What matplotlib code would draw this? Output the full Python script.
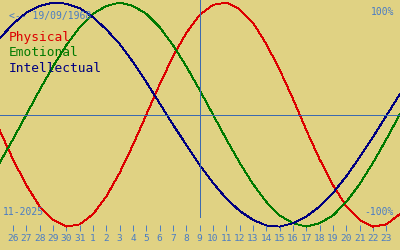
import matplotlib
matplotlib.use("Agg")
import matplotlib.pyplot as plt

# Day labels (Oct 26 .. Nov 23)
day_labels = [26, 27, 28, 29, 30, 31] + list(range(1, 24))
# Series values (-1..1) for day index -1 .. 29 (one extra day each side)
physical = [-0.14, -0.40, -0.63, -0.82, -0.94, -1.00, -0.98, -0.89, -0.73, -0.52,
            -0.27, 0.00, 0.27, 0.52, 0.73, 0.89, 0.98, 1.00, 0.94, 0.82,
            0.63, 0.40, 0.14, -0.14, -0.40, -0.63, -0.82, -0.94, -1.00, -0.98, -0.89]
emotional = [-0.43, -0.22, 0.00, 0.22, 0.43, 0.62, 0.78, 0.90, 0.97, 1.00,
             0.97, 0.90, 0.78, 0.62, 0.43, 0.22, 0.00, -0.22, -0.43, -0.62,
             -0.78, -0.90, -0.97, -1.00, -0.97, -0.90, -0.78, -0.62, -0.43, -0.22, 0.00]
intellectual = [0.68, 0.81, 0.91, 0.97, 1.00, 0.99, 0.95, 0.87, 0.76, 0.63,
                0.47, 0.29, 0.10, -0.09, -0.27, -0.45, -0.61, -0.75, -0.86, -0.94,
                -0.99, -1.00, -0.97, -0.91, -0.82, -0.70, -0.55, -0.38, -0.20, -0.01, 0.18]
today_index = 14
birth_text = "<-- 19/09/1968"
month_text = "11-2025"

BG = "#E0D283"
TXT = "#4A7CC4"
LINE = "#3C6AB0"

fig = plt.figure(figsize=(4, 2.5), dpi=100, facecolor=BG)
ax = fig.add_axes([0, 19 / 250, 1, 231 / 250])
ax.set_facecolor(BG)

xs = list(range(-1, len(physical) - 1))
lw = 0.65
ax.plot(xs, physical, color="#DD0000", lw=lw, antialiased=False)
ax.plot(xs, emotional, color="#007A00", lw=lw, antialiased=False)
ax.plot(xs, intellectual, color="#000080", lw=lw, antialiased=False)

yhi = 114.6 / 112
ylo = (114.6 - 231) / 112
ax.set_ylim(ylo, yhi)
ax.set_xlim(-0.975, 29.025)

ax.axhline(-0.006, color=LINE, lw=lw, antialiased=False)
vbot = (114.6 - 217) / 112
ax.axvline(today_index, ymin=(vbot - ylo) / (yhi - ylo), ymax=1, color=LINE, lw=lw,
           antialiased=False)

for s in ax.spines.values():
    s.set_visible(False)
ax.set_yticks([])
ax.set_xticks(range(len(day_labels)))
ax.set_xticklabels([str(d) for d in day_labels], family="DejaVu Sans Mono", fontsize=6.8)
ax.tick_params(axis="x", direction="in", length=4.3, width=0.7, color=TXT,
               labelcolor=TXT, pad=2.5)

def ptext(x, y, s, color, size, ha="left"):
    fig.text(x / 400, 1 - y / 250, s, color=color, fontsize=size, ha=ha, va="center",
             family="DejaVu Sans Mono")

ptext(9, 16, birth_text, TXT, 7)
ptext(394, 12, "100%", TXT, 7, ha="right")
ptext(9, 38, "Physical", "#DD0000", 9.3)
ptext(9, 53, "Emotional", "#007A00", 9.3)
ptext(9, 68, "Intellectual", "#000080", 9.3)
ptext(3, 212, month_text, TXT, 7)
ptext(394, 212, "-100%", TXT, 7, ha="right")

fig.savefig("out.png", dpi=100, facecolor=BG)
